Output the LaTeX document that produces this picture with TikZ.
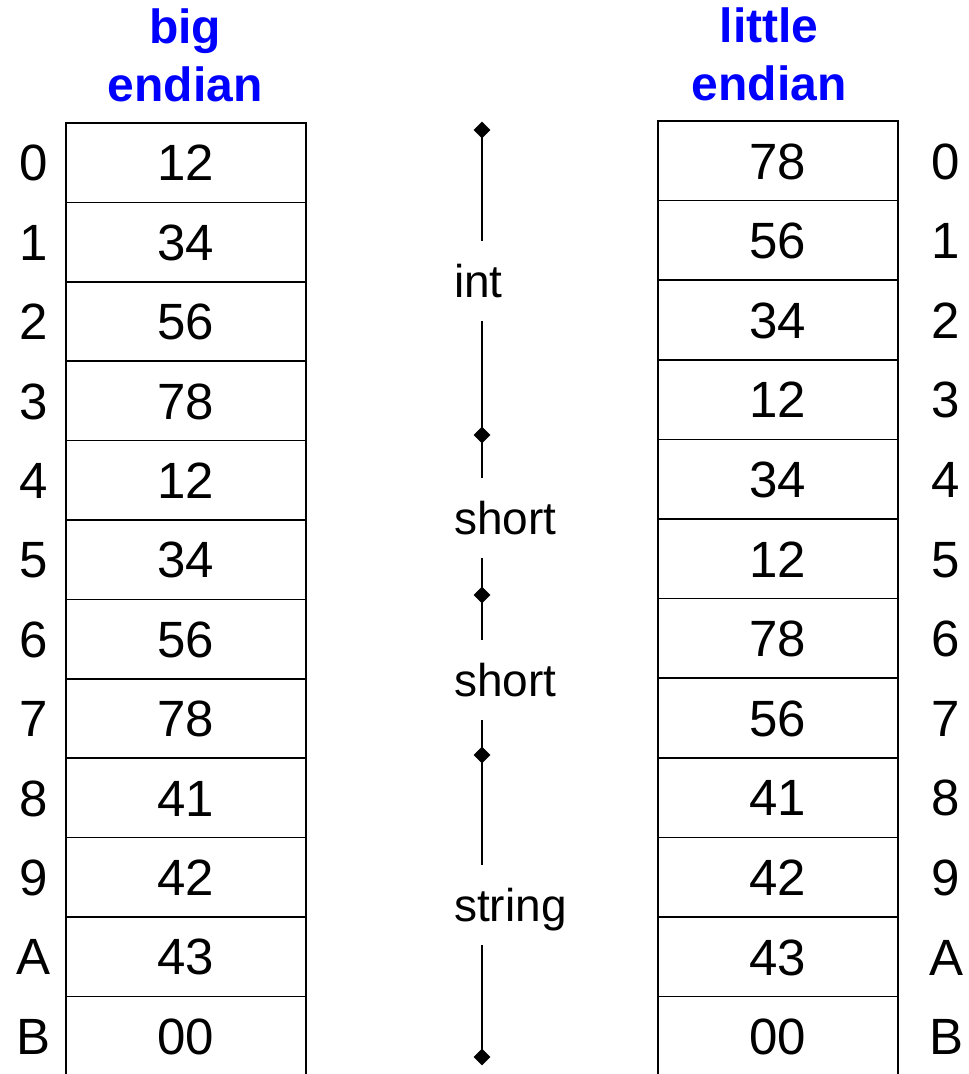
\documentclass[tikz,border=0pt]{standalone}
\usepackage{fontspec}
\setmainfont{Liberation Sans}
\usetikzlibrary{shapes.geometric}
\definecolor{titleblue}{RGB}{0,0,255}
\begin{document}
\begin{tikzpicture}[x=1pt,y=-1pt,
  cellbox/.style={draw, line width=1.7pt, minimum width=240pt, inner sep=0pt,
    font=\fontsize{51}{60}\selectfont, text height=36.5pt, text depth=0pt},
  idx/.style={inner sep=0pt, font=\fontsize{51}{60}\selectfont, text height=36.5pt, text depth=0pt},
  title/.style={inner sep=0pt, align=center, text=titleblue,
    font=\fontsize{48}{58}\bfseries\selectfont},
  marker/.style={diamond, fill=black, inner sep=0pt, minimum width=17pt, minimum height=17pt},
  typelabel/.style={anchor=west, inner sep=0pt, minimum height=80pt,
    font=\fontsize{46}{54}\selectfont, text height=33pt, text depth=0pt},
  span/.style={line width=1.4pt}]
\useasboundingbox (0,0) rectangle (969,1074);
\clip (0,0) rectangle (969,1074);
% titles
\node[title] (tbig) at (185,55) {big\\endian};
\node[title] (tlittle) at (769,54) {little\\endian};
% memory columns
\foreach \i/\v/\w/\n in {0/12/78/0,1/34/56/1,2/56/34/2,3/78/12/3,4/12/34/4,5/34/12/5,
                        6/56/78/6,7/78/56/7,8/41/41/8,9/42/42/9,10/43/43/A,11/00/00/B}{
  \node[cellbox, minimum height=79.4pt] (L\i) at (186,{123+79.4*(\i+0.5)}) {\v};
  \node[idx] (li\i) at (34,{123+79.4*(\i+0.5)}) {\n};
  \node[cellbox, minimum height=79.6pt] (R\i) at (778,{121+79.6*(\i+0.5)}) {\w};
  \node[idx] (ri\i) at (946,{121+79.6*(\i+0.5)}) {\n};
}
% type spans
\node[marker] (d0) at (482,130) {};
\node[marker] (d1) at (482,435) {};
\node[marker] (d2) at (482,595) {};
\node[marker] (d3) at (482,755) {};
\node[marker] (d4) at (482,1057) {};
\node[typelabel] (tint) at (454,281) {int};
\node[typelabel] (tshort1) at (454,518) {short};
\node[typelabel] (tshort2) at (454,680) {short};
\node[typelabel] (tstring) at (454,905) {string};
\draw[span] (d0.center) -- (d0 |- tint.north);
\draw[span] (d0 |- tint.south) -- (d1.center);
\draw[span] (d1.center) -- (d1 |- tshort1.north);
\draw[span] (d1 |- tshort1.south) -- (d2.center);
\draw[span] (d2.center) -- (d2 |- tshort2.north);
\draw[span] (d2 |- tshort2.south) -- (d3.center);
\draw[span] (d3.center) -- (d3 |- tstring.north);
\draw[span] (d3 |- tstring.south) -- (d4.center);
\end{tikzpicture}
\end{document}
